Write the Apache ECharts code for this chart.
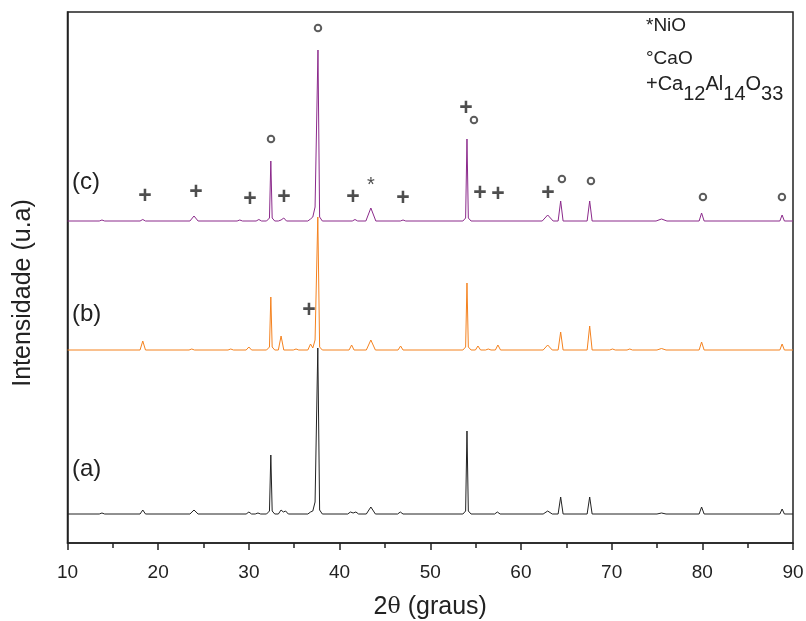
<!DOCTYPE html>
<html>
<head>
<meta charset="utf-8">
<script src="https://cdn.jsdelivr.net/npm/echarts@6/dist/echarts.min.js"></script>
<style>html,body{margin:0;padding:0;background:#fff}#c{width:806px;height:621px}</style>
</head>
<body>
<div id="c"></div>
<script>
// X ticks
const xTicks = [10, 20, 30, 40, 50, 60, 70, 80, 90];
// vertical offsets of stacked patterns (arbitrary intensity units)
const offsetA = 29, offsetB = 193, offsetC = 322;
// (a) black pattern [2theta, intensity]
const patternA = [[10,0],[13.5,0],[13.8,1],[14.1,0],[18.0,0],[18.3,4],[18.6,0],[23.5,0],[23.95,4],[24.4,0],[29.7,0],[30.0,2],[30.3,0],[30.7,0],[31.0,1],[31.3,0],[31.95,0],[32.27,3],[32.42,59],[32.57,3],[32.85,0],[33.25,0],[33.55,4],[33.8,2],[34.05,3],[34.35,0],[36.5,0],[36.8,2],[37.05,3],[37.3,12],[37.6,166],[37.8,4],[38.1,0],[40.9,0],[41.2,2],[41.5,1],[41.8,2],[42.1,0],[42.95,0],[43.45,7],[43.95,0],[46.4,0],[46.7,2],[47.0,0],[53.6,0],[53.9,3],[54.05,83],[54.2,3],[54.5,0],[57.1,0],[57.4,2],[57.7,0],[62.45,0],[62.95,3],[63.45,0],[64.1,0],[64.38,17],[64.65,0],[67.3,0],[67.58,17],[67.85,0],[75.0,0],[75.5,1],[76.0,0],[79.65,0],[79.92,7],[80.2,0],[88.55,0],[88.8,5],[89.05,0],[90,0]];
// (b) orange pattern
const patternB = [[10,0],[18.0,0],[18.3,9],[18.6,0],[23.4,0],[23.7,1],[24.0,0],[27.7,0],[28.0,1],[28.3,0],[29.7,0],[30.0,3],[30.3,0],[31.95,0],[32.27,3],[32.42,53],[32.57,3],[32.85,0],[33.25,0],[33.55,14],[33.85,0],[34.9,0],[35.2,1],[35.5,0],[36.5,0],[36.8,6],[37.05,2],[37.3,10],[37.6,133],[37.8,3],[38.1,0],[41.05,0],[41.33,5],[41.6,0],[42.95,0],[43.45,10],[43.95,0],[46.45,0],[46.73,4],[47.0,0],[53.6,0],[53.9,3],[54.05,67],[54.2,3],[54.5,0],[54.98,0],[55.26,4],[55.55,0],[56.1,0],[56.4,1],[56.7,0],[57.18,0],[57.46,5],[57.75,0],[62.45,0],[62.95,5],[63.45,0],[64.1,0],[64.38,18],[64.65,0],[67.3,0],[67.58,24],[67.85,0],[69.8,0],[70.1,1],[70.4,0],[71.7,0],[72.0,1],[72.3,0],[75.0,0],[75.5,1.5],[76.0,0],[79.65,0],[79.92,8],[80.2,0],[88.55,0],[88.8,6],[89.05,0],[90,0]];
// (c) purple pattern
const patternC = [[10,0],[13.5,0],[13.8,1],[14.1,0],[18.0,0],[18.3,1.5],[18.6,0],[23.5,0],[23.95,5],[24.4,0],[28.7,0],[29.0,1],[29.3,0],[30.8,0],[31.1,1.5],[31.4,0],[31.95,0],[32.27,3],[32.42,60],[32.57,3],[32.85,0],[33.25,0],[33.55,1],[33.85,3],[34.15,0],[36.5,0],[36.8,2],[37.05,4],[37.3,14],[37.62,171],[37.8,4],[38.1,0],[41.4,0],[41.7,1.5],[42.0,0],[42.9,0],[43.45,13],[44.0,0],[46.7,0],[47.0,1],[47.3,0],[53.6,0],[53.9,3],[54.05,82],[54.2,3],[54.5,0],[62.35,0],[62.95,6],[63.55,0],[64.1,0],[64.38,20],[64.65,0],[67.3,0],[67.58,20],[67.85,0],[74.9,0],[75.5,2],[76.1,0],[79.65,0],[79.92,8],[80.2,0],[88.55,0],[88.8,6],[89.05,0],[90,0]];
// phase markers [2theta, height]
const cao = [[37.62,515],[32.44,404],[54.82,423],[64.52,364],[67.72,362],[80.07,346],[88.78,346]];
const mayenite = [[18.55,346],[24.17,350],[30.12,343],[33.87,345],[41.48,345],[46.99,344],[53.94,434],[55.48,349],[57.46,348],[62.98,349],[36.63,232]];
const nio = [[43.46,358]];
const panelLabels = ['(c)', '(b)', '(a)'];
const legendLines = ['*NiO', '°CaO'];

const shift = (arr, off) => arr.map(p => [p[0], p[1] + off]);
const font = '"Liberation Sans",Arial,sans-serif';

const chart = echarts.init(document.getElementById('c'), null, {renderer: 'canvas'});
chart.setOption({
  animation: false,
  backgroundColor: '#fff',
  grid: {left: 67.5, right: 13, top: 12, bottom: 78, show: true, borderColor: '#222', borderWidth: 1.5, containLabel: false, outerBoundsMode: 'none'},
  xAxis: {
    type: 'value', min: 10, max: 90, interval: 10,
    axisLine: {show: true, lineStyle: {color: '#222', width: 1.5}},
    axisTick: {show: true, inside: false, length: 7, lineStyle: {color: '#222', width: 1.5}},
    minorTick: {show: true, splitNumber: 2, length: 5, lineStyle: {color: '#222', width: 1.5}},
    splitLine: {show: false},
    axisLabel: {fontFamily: font, fontSize: 19, color: '#222', margin: 20, customValues: xTicks},
    name: '2{t|θ} (graus)', nameLocation: 'middle', nameGap: 52,
    nameTextStyle: {fontFamily: font, fontSize: 25, color: '#222', rich: {t: {fontFamily: '"DejaVu Serif","Liberation Serif",serif', fontSize: 22, color: '#222'}}}
  },
  yAxis: {
    type: 'value', min: 0, max: 531,
    axisLine: {show: true, lineStyle: {color: '#222', width: 1.5}},
    axisTick: {show: false}, axisLabel: {show: false}, splitLine: {show: false}
  },
  series: [
    {type: 'line', data: shift(patternA, offsetA), showSymbol: false, lineStyle: {color: '#222', width: 1}, z: 3},
    {type: 'line', data: shift(patternB, offsetB), showSymbol: false, lineStyle: {color: '#F4821F', width: 1}, z: 3},
    {type: 'line', data: shift(patternC, offsetC), showSymbol: false, lineStyle: {color: '#8B2A8B', width: 1}, z: 3},
    {type: 'scatter', data: cao, symbol: 'emptyCircle', symbolSize: 6.5, itemStyle: {color: '#333', borderColor: '#333', borderWidth: 1.2}, z: 4},
    {type: 'scatter', data: mayenite, symbolSize: 0, z: 4,
      label: {show: true, position: 'inside', formatter: '+', fontFamily: font, fontWeight: 'bold', fontSize: 23, color: '#222'}},
    {type: 'scatter', data: nio, symbolSize: 0, z: 4,
      label: {show: true, position: 'inside', formatter: '*', fontFamily: font, fontSize: 20, color: '#222'}}
  ],
  graphic: [
    {type: 'text', x: 23, y: 293, rotation: Math.PI / 2, style: {text: 'Intensidade (u.a)', fontFamily: font, fontSize: 25, fill: '#222', align: 'center', verticalAlign: 'middle'}},
    {type: 'text', x: 72, y: 182, style: {text: panelLabels[0], fontFamily: font, fontSize: 24, fill: '#222', verticalAlign: 'middle'}},
    {type: 'text', x: 72, y: 314, style: {text: panelLabels[1], fontFamily: font, fontSize: 24, fill: '#222', verticalAlign: 'middle'}},
    {type: 'text', x: 72, y: 469, style: {text: panelLabels[2], fontFamily: font, fontSize: 24, fill: '#222', verticalAlign: 'middle'}},
    {type: 'text', x: 646, y: 16, style: {text: legendLines[0], fontFamily: font, fontSize: 19, fill: '#222'}},
    {type: 'text', x: 646, y: 49, style: {text: legendLines[1], fontFamily: font, fontSize: 19, fill: '#222'}},
    {type: 'text', x: 646, y: 74, style: {
      text: '{n|+Ca}{s|12}{n|Al}{s|14}{n|O}{s|33}',
      rich: {
        n: {fontFamily: font, fontSize: 20, fill: '#222', color: '#222', verticalAlign: 'top', lineHeight: 30},
        s: {fontFamily: font, fontSize: 20, fill: '#222', color: '#222', verticalAlign: 'bottom', lineHeight: 30}
      }}}
  ]
});
</script>
</body>
</html>
